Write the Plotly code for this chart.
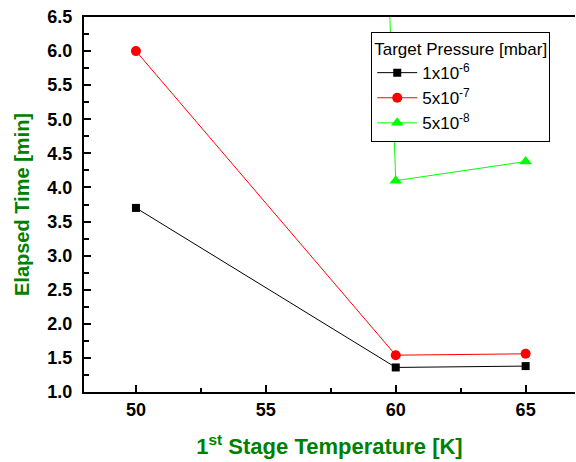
import plotly.graph_objects as go

temps = [50, 60, 65]
p_1e6 = [3.70, 1.36, 1.38]
p_5e7 = [6.00, 1.54, 1.56]
p_5e8 = [110.0, 4.10, 4.38]

names = ["1x10<sup>-6</sup>", "5x10<sup>-7</sup>", "5x10<sup>-8</sup>"]
colors = ["#000000", "#FF0000", "#00FF00"]
symbols = ["square", "circle", "triangle-up"]
sizes = [8, 10, 11]

xticks = [50, 55, 60, 65]
yticks = [1.0, 1.5, 2.0, 2.5, 3.0, 3.5, 4.0, 4.5, 5.0, 5.5, 6.0, 6.5]

fig = go.Figure()
for ys, nm, c, s, sz in zip([p_1e6, p_5e7, p_5e8], names, colors, symbols, sizes):
    fig.add_trace(go.Scatter(
        x=temps, y=ys, name=nm, mode="lines+markers",
        line=dict(color=c, width=1),
        marker=dict(symbol=s, size=sz, color=c),
        cliponaxis=True,
    ))

green = "#008000"
fig.update_layout(
    width=576, height=462,
    margin=dict(l=84, r=1, t=17, b=70),
    paper_bgcolor="white", plot_bgcolor="white",
    font=dict(family="Arial, Liberation Sans", color="black"),
    showlegend=True,
    legend=dict(
        title=dict(text="Target Pressure [mbar]", font=dict(size=17)),
        font=dict(size=17),
        x=0.585, y=0.96, xanchor="left", yanchor="top",
        bordercolor="black", borderwidth=1, bgcolor="white",
        tracegroupgap=0, itemwidth=40,
    ),
    xaxis=dict(
        range=[48, 66.9], tickvals=xticks,
        ticktext=["<b>%d</b>" % v for v in xticks],
        ticks="inside", ticklen=7, tickwidth=1.5, tickcolor="black",
        minor=dict(tickvals=[52.5, 57.5, 62.5], ticks="inside", ticklen=4, tickcolor="black", tickwidth=1.5),
        showline=True, linecolor="black", linewidth=2, mirror=True,
        showgrid=False, zeroline=False,
        tickfont=dict(size=18),
        title=dict(text="<b>1<sup>st</sup> Stage Temperature [K]</b>", font=dict(size=22, color=green), standoff=20),
    ),
    yaxis=dict(
        range=[1.0, 6.5], tickvals=yticks,
        ticktext=["<b>%.1f</b>" % v for v in yticks],
        ticks="inside", ticklen=7, tickwidth=1.5, tickcolor="black",
        minor=dict(dtick=0.25, tick0=1.0, ticks="inside", ticklen=5, tickcolor="black", tickwidth=1.5),
        showline=True, linecolor="black", linewidth=2,
        showgrid=False, zeroline=False,
        tickfont=dict(size=18),
        ticklabelstandoff=6,
        title=dict(text="<b>Elapsed Time [min]</b>", font=dict(size=20, color=green), standoff=12),
    ),
)

fig.write_html("out.html")
